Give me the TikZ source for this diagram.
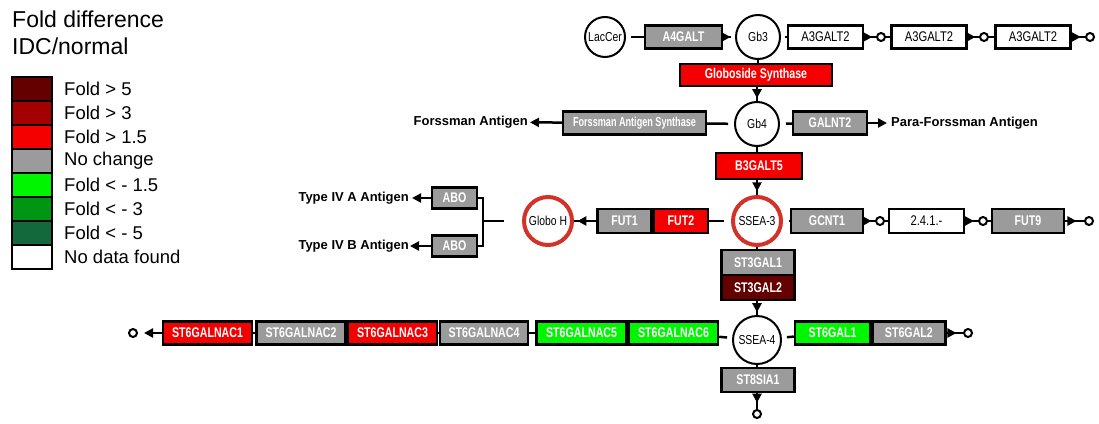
\documentclass[tikz,border=0pt]{standalone}
\usepackage{fontspec}
\setmainfont{Liberation Sans}
\newfontfamily\narrowfont[FakeStretch=0.8]{Liberation Sans}
\newfontfamily\boldnarrow[FakeStretch=0.76]{Liberation Sans}
\newfontfamily\boldnarrower[FakeStretch=0.7]{Liberation Sans}
\usetikzlibrary{arrows.meta,decorations.markings}
\definecolor{fgt5}{RGB}{100,0,0}
\definecolor{fgt3}{RGB}{165,0,0}
\definecolor{fgt15}{RGB}{245,0,0}
\definecolor{nochg}{RGB}{155,155,155}
\definecolor{flt15}{RGB}{0,245,0}
\definecolor{flt3}{RGB}{0,150,20}
\definecolor{flt5}{RGB}{20,105,60}
\definecolor{ringred}{RGB}{210,50,40}
\tikzset{
  gene/.style={draw=black, line width=2.4pt, minimum height=23pt, inner sep=0pt, text=white,
    font=\boldnarrow\bfseries\fontsize{14}{16}\selectfont},
  wgene/.style={gene, fill=white, text=black, font=\narrowfont\fontsize{14}{16}\selectfont},
  met/.style={circle, draw=black, line width=2pt, fill=white, inner sep=0pt, minimum size=44pt,
    font=\narrowfont\fontsize{13}{15}\selectfont},
  ringmet/.style={met, draw=ringred, line width=4pt, minimum size=48pt},
  endc/.style={circle, draw=black, line width=2pt, fill=white, inner sep=0pt, minimum size=8pt},
  conn/.style={line width=2.5pt},
  marr/.style={conn, postaction={decorate}, decoration={markings,
    mark=at position #1 with {\arrow{Triangle[length=9pt,width=9pt]}}}},
  marr/.default=0.6,
  tarr/.style={conn, -{Triangle[length=9pt,width=9pt]}},
  ant/.style={font=\bfseries\fontsize{13}{15}\selectfont, inner sep=0pt},
  swatch/.style={draw=black, line width=2pt, minimum width=40pt, minimum height=24pt, inner sep=0pt},
  legtxt/.style={anchor=west, inner sep=0pt, font=\fontsize{18.5}{21}\selectfont},
}
\begin{document}
\begin{tikzpicture}[x=1pt,y=-1pt]
\useasboundingbox (0,0) rectangle (1099,423);
% legend
\node[anchor=west, inner sep=0pt, font=\fontsize{23}{26}\selectfont] (lt1) at (12,19) {Fold difference};
\node[anchor=west, inner sep=0pt, font=\fontsize{23}{26}\selectfont] (lt2) at (12,46) {IDC/normal};
\node[swatch, fill=fgt5] (s1) at (32,89) {};
\node[swatch, fill=fgt3] (s2) at (32,113) {};
\node[swatch, fill=fgt15] (s3) at (32,137) {};
\node[swatch, fill=nochg] (s4) at (32,161) {};
\node[swatch, fill=flt15] (s5) at (32,185) {};
\node[swatch, fill=flt3] (s6) at (32,209) {};
\node[swatch, fill=flt5] (s7) at (32,233) {};
\node[swatch, fill=white] (s8) at (32,257) {};
\node[legtxt] (l1) at (64,89) {Fold > 5};
\node[legtxt] (l2) at (64,113) {Fold > 3};
\node[legtxt] (l3) at (64,137) {Fold > 1.5};
\node[legtxt] (l4) at (64,161) {No change};
\node[legtxt] (l5) at (64,185) {Fold < - 1.5};
\node[legtxt] (l6) at (64,209) {Fold < - 3};
\node[legtxt] (l7) at (64,233) {Fold < - 5};
\node[legtxt] (l8) at (64,257) {No data found};

% top row
\node[met, minimum size=40pt] (laccer) at (605,37) {LacCer};
\node[gene, fill=nochg, minimum width=77pt] (a4galt) at (683.5,37) {A4GALT};
\node[met] (gb3) at (758,37) {Gb3};
\node[wgene, minimum width=75pt] (a3a) at (825.5,37) {A3GALT2};
\node[endc] (e1) at (881,37) {};
\node[wgene, minimum width=75pt] (a3b) at (929,37) {A3GALT2};
\node[endc] (e2) at (984,37) {};
\node[wgene, minimum width=75pt] (a3c) at (1033,37) {A3GALT2};
\node[endc] (e3) at (1090,37) {};
\draw[conn, shorten <=5pt] (laccer) -- (a4galt);
\draw[marr=0.62, shorten >=4pt] (a4galt) -- (gb3);
\draw[conn, shorten <=4pt] (gb3) -- (a3a);
\draw[marr=0.68] (a3a) -- (e1);
\draw[conn] (e1) -- (a3b);
\draw[marr=0.68] (a3b) -- (e2);
\draw[conn] (e2) -- (a3c);
\draw[marr=0.68] (a3c) -- (e3);

% globoside
\node[gene, fill=fgt15, minimum width=152pt, minimum height=22pt] (globs) at (756,75) {Globoside Synthase};
\draw[conn] (gb3) -- (gb3 |- globs.north);
\node[met] (gb4) at (757,124) {Gb4};
\draw[marr=0.8] (globs.south -| gb4) -- (gb4);

% Gb4 row
\node[gene, fill=nochg, minimum width=143pt, font=\boldnarrower\bfseries\fontsize{13}{15}\selectfont] (fas) at (634.5,123) {Forssman Antigen Synthase};
\node[ant, anchor=east] (fa) at (528,122) {Forssman Antigen};
\node[gene, fill=nochg, minimum width=74pt] (galnt2) at (830,123) {GALNT2};
\node[ant, anchor=west] (pfa) at (891,123) {Para-Forssman Antigen};
\draw[conn, shorten <=6pt] (gb4) -- (fas);
\draw[tarr, shorten >=2pt] (fas) -- (fa);
\draw[conn, shorten <=6pt] (gb4) -- (galnt2);
\draw[tarr, shorten >=4pt] (galnt2) -- (pfa);

% B3GALT5 / SSEA-3
\node[gene, fill=fgt15, minimum width=86pt, minimum height=26pt] (b3galt5) at (759,166) {B3GALT5};
\draw[conn] (gb4) -- (gb4 |- b3galt5.north);
\node[ringmet] (ssea3) at (757,221) {SSEA-3};
\draw[marr=0.75] (b3galt5.south -| ssea3) -- (ssea3);

% SSEA-3 left
\node[gene, fill=fgt15, minimum width=54pt, minimum height=24pt] (fut2) at (681,221) {FUT2};
\node[gene, fill=nochg, minimum width=54pt, minimum height=24pt, anchor=east] (fut1) at (fut2.west) {FUT1};
\node[ringmet] (globoh) at (548,221) {Globo H};
\draw[conn, shorten <=7pt] (ssea3) -- (fut2);
\draw[marr=0.85] (fut1) -- (globoh);
\node[gene, fill=nochg, minimum width=45pt, minimum height=21pt] (aboa) at (454.5,198) {ABO};
\node[gene, fill=nochg, minimum width=45pt, minimum height=21pt] (abob) at (454.5,246) {ABO};
\coordinate (br) at (483,221);
\draw[conn] (aboa.east) -| (br) |- (abob.east);
\draw[conn, shorten <=18pt] (globoh.west) -- (br);
\node[ant, anchor=east] (t4a) at (409,198) {Type IV A Antigen};
\node[ant, anchor=east] (t4b) at (409,246) {Type IV B Antigen};
\draw[tarr, shorten >=3pt] (aboa) -- (t4a);
\draw[tarr, shorten >=1pt] (abob) -- (t4b);

% SSEA-3 right
\node[gene, fill=nochg, minimum width=72pt, minimum height=24pt] (gcnt1) at (827,221) {GCNT1};
\node[endc] (e4) at (880,221) {};
\node[wgene, minimum width=75pt, minimum height=24pt] (ec) at (926.5,221) {2.4.1.-};
\node[endc] (e5) at (983,221) {};
\node[gene, fill=nochg, minimum width=72pt, minimum height=24pt] (fut9) at (1028,221) {FUT9};
\node[endc] (e6) at (1089,221) {};
\draw[conn, shorten <=6pt] (ssea3) -- (gcnt1);
\draw[marr=0.68] (gcnt1) -- (e4);
\draw[conn] (e4) -- (ec);
\draw[marr=0.68] (ec) -- (e5);
\draw[conn] (e5) -- (fut9);
\draw[marr=0.6] (fut9) -- (e6);

% ST3GAL / SSEA-4
\node[gene, fill=nochg, minimum width=73pt, minimum height=25pt] (st3gal1) at (758,262.5) {ST3GAL1};
\node[gene, fill=fgt5, minimum width=73pt, minimum height=25pt] (st3gal2) at (758,287.5) {ST3GAL2};
\draw[conn] (ssea3) -- (ssea3 |- st3gal1.north);
\node[met, minimum size=48pt] (ssea4) at (757,340) {SSEA-4};
\draw[marr=0.8] (st3gal2.south -| ssea4) -- (ssea4);
\node[gene, fill=nochg, minimum width=73pt, minimum height=24pt] (st8sia1) at (758,380) {ST8SIA1};
\draw[conn] (ssea4) -- (ssea4 |- st8sia1.north);
\node[endc] (e7) at (757,414) {};
\draw[marr=0.6] (st8sia1.south -| e7) -- (e7);

% bottom row left
\node[gene, fill=flt15, minimum width=89pt] (gn6) at (673.5,333) {ST6GALNAC6};
\node[gene, fill=flt15, minimum width=90pt, anchor=east] (gn5) at (gn6.west) {ST6GALNAC5};
\node[gene, fill=nochg, minimum width=88pt] (gn4) at (484,333) {ST6GALNAC4};
\node[gene, fill=fgt15, minimum width=89pt] (gn3) at (392.5,333) {ST6GALNAC3};
\node[gene, fill=nochg, minimum width=89pt, anchor=east] (gn2) at (gn3.west) {ST6GALNAC2};
\node[gene, fill=fgt15, minimum width=89pt] (gn1) at (207.5,333) {ST6GALNAC1};
\node[endc] (e8) at (133,333) {};
\draw[conn, shorten <=5pt] (ssea4) -- (gn6);
\draw[conn] (gn5) -- (gn4);
\draw[conn] (gn4) -- (gn3);
\draw[conn] (gn2) -- (gn1);
\draw[tarr, shorten >=6pt] (gn1) -- (e8);

% bottom row right
\node[gene, fill=flt15, minimum width=75pt] (g1) at (832.5,333) {ST6GAL1};
\node[gene, fill=nochg, minimum width=73pt, anchor=west] (g2) at (g1.east) {ST6GAL2};
\node[endc] (e9) at (968,333) {};
\draw[conn, shorten <=5pt] (ssea4) -- (g1);
\draw[marr=0.6] (g2) -- (e9);
\end{tikzpicture}
\end{document}
